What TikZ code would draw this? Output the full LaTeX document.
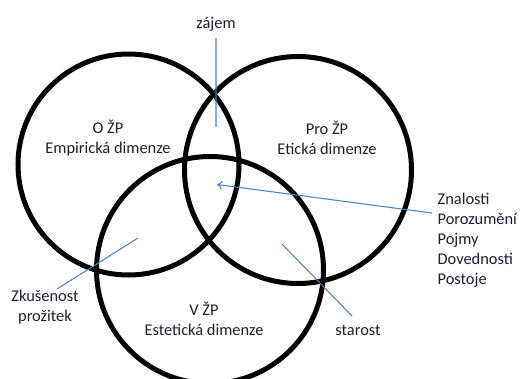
\documentclass[tikz,border=0pt]{standalone}
\usepackage{fontspec}
\setmainfont{Carlito}
\usetikzlibrary{arrows.meta}
\definecolor{pointer}{RGB}{79,129,189}
\definecolor{ink}{RGB}{30,30,50}
\begin{document}
\begin{tikzpicture}[
		x = 0.75pt, y = -0.75pt,
		set/.style = {draw, circle, line width = 3.75pt, inner sep = 0pt},
		label text/.style = {text = ink, font = \fontsize{12.3}{15}\selectfont, align = center, inner sep = 1pt},
		pointer/.style = {draw = pointer, line width = 0.8pt}
	]
	\useasboundingbox (0,0) rectangle (523,378);

	% the three sets
	\node (o) [set, minimum size = 165.75pt] at (128.5,164.5) {};
	\node (pro) [set, minimum size = 170.25pt] at (298,170) {};
	\node (v) [set, minimum size = 170.25pt] at (210,270) {};

	% names of the sets
	\node (oname) [label text] at (108,138) {O ŽP\\Empirická dimenze};
	\node (proname) [label text] at (327,138) {Pro ŽP\\Etická dimenze};
	\node (vname) [label text] at (204,319) {V ŽP\\Estetická dimenze};

	% outside labels
	\node (zajem) [label text] at (216,24) {zájem};
	\node (zkusenost) [label text] at (45,307) {Zkušenost\\prožitek};
	\node (starost) [label text] at (358,330) {starost};
	\node (znalosti) [label text, align = left, anchor = north west] at (436,192) {Znalosti\\Porozumění\\Pojmy\\Dovednosti\\Postoje};

	\coordinate (zajemstart) at (216,38);
	\coordinate (zajemend) at (216,127);
	\coordinate (zkusenoststart) at (57,289);
	\coordinate (zkusenostend) at (138,238);
	\coordinate (staroststart) at (352,316);
	\coordinate (starostend) at (282,244);
	\coordinate (znalostistart) at (432,213);
	\coordinate (znalostiend) at (217,184.5);

	\path [pointer]
	(zajemstart) -- (zajemend)
	(zkusenoststart) -- (zkusenostend)
	(staroststart) -- (starostend);
	\draw [pointer, -{To[length = 4pt, width = 7pt]}] (znalostistart) -- (znalostiend);
\end{tikzpicture}
\end{document}
